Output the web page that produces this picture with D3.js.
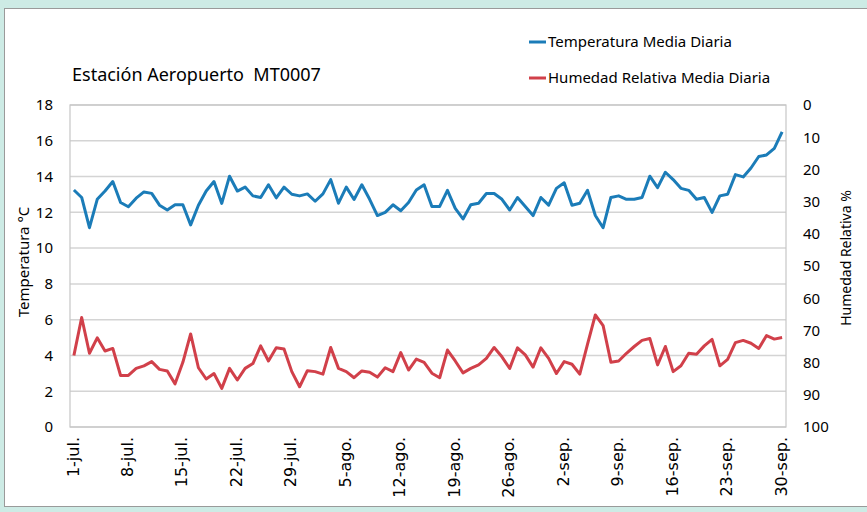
<!DOCTYPE html>
<html>
<head>
<meta charset="utf-8">
<script src="https://cdn.jsdelivr.net/npm/d3@7"></script>
<style>
  body { margin: 0; background: #cdebe5; }
  text { font-family: "Noto Sans", sans-serif; fill: #000; }
</style>
</head>
<body>
<div id="chart"></div>
<script>
// daily means, 1-jul .. 30-sep
var temperatura = [13.25, 12.83, 11.14, 12.73, 13.19, 13.72, 12.55, 12.31, 12.79, 13.14,
    13.06, 12.40, 12.13, 12.42, 12.42, 11.30, 12.40, 13.19, 13.72, 12.50,
    14.02, 13.19, 13.41, 12.92, 12.83, 13.54, 12.81, 13.41, 13.01, 12.92,
    13.03, 12.62, 13.03, 13.83, 12.51, 13.41, 12.72, 13.54, 12.73, 11.82,
    12.00, 12.42, 12.09, 12.55, 13.25, 13.54, 12.33, 12.33, 13.23, 12.22,
    11.63, 12.42, 12.51, 13.05, 13.05, 12.73, 12.13, 12.83, 12.33, 11.82,
    12.83, 12.40, 13.34, 13.65, 12.40, 12.51, 13.23, 11.82, 11.14, 12.83,
    12.92, 12.73, 12.73, 12.83, 14.02, 13.38, 14.24, 13.83, 13.34, 13.23,
    12.73, 12.83, 12.00, 12.92, 13.01, 14.11, 13.98, 14.48, 15.12, 15.21,
    15.58, 16.50];

var humedad = [77.8, 66.0, 77.1, 72.3, 76.4, 75.6, 84.0, 84.0, 81.8, 81.0,
    79.7, 82.1, 82.6, 86.6, 79.9, 71.1, 81.6, 85.1, 83.4, 88.0,
    81.8, 85.4, 81.8, 80.3, 74.8, 79.5, 75.4, 75.8, 82.8, 87.5,
    82.5, 82.8, 83.6, 75.3, 81.8, 82.8, 84.7, 82.6, 83.0, 84.5,
    81.6, 82.8, 76.9, 82.3, 78.9, 79.9, 83.3, 84.7, 76.1, 79.5,
    83.2, 81.8, 80.7, 78.7, 75.3, 78.2, 81.8, 75.4, 77.6, 81.4,
    75.4, 78.7, 83.4, 79.7, 80.5, 83.6, 74.3, 65.2, 68.5, 79.9,
    79.5, 77.1, 75.0, 73.1, 72.5, 80.7, 75.0, 82.8, 81.0, 77.1,
    77.4, 74.8, 72.8, 81.0, 79.0, 73.8, 73.1, 74.0, 75.6, 71.6,
    72.7, 72.2];

var tickLabels = ["1-jul.", "8-jul.", "15-jul.", "22-jul.", "29-jul.", "5-ago.", "12-ago.",
    "19-ago.", "26-ago.", "2-sep.", "9-sep.", "16-sep.", "23-sep.", "30-sep."];

var series = ["Temperatura Media Diaria", "Humedad Relativa Media Diaria"];
var colors = ["#1b7cb8", "#d1404a"];

var margin = {top: 105, right: 81, bottom: 85, left: 70},
    width = 867 - margin.left - margin.right,
    height = 512 - margin.top - margin.bottom;

var svg = d3.select("#chart")
    .append("svg")
    .attr("width", 867)
    .attr("height", 512);

// white chart panel
svg.append("rect")
    .attr("x", 4.5)
    .attr("y", 8.5)
    .attr("width", 870)
    .attr("height", 498)
    .style("fill", "#fff")
    .style("stroke", "#9a9a9a");

var g = svg.append("g")
    .attr("transform", "translate(" + margin.left + "," + margin.top + ")");

var x = d3.scalePoint()
    .domain(d3.range(temperatura.length))
    .range([0, width])
    .padding(0.5);

var yT = d3.scaleLinear().domain([0, 18]).range([height, 0]);
var yH = d3.scaleLinear().domain([0, 100]).range([0, height]);

// gridlines
g.selectAll(".grid")
    .data(yT.ticks(9))
    .enter().append("line")
    .attr("x1", 0)
    .attr("x2", width)
    .attr("y1", function(d) { return yT(d); })
    .attr("y2", function(d) { return yT(d); })
    .style("stroke", "#d4d4d4")
    .style("stroke-width", 1.5);

g.append("rect")
    .attr("width", width)
    .attr("height", height)
    .style("fill", "none")
    .style("stroke", "#c6c6c6")
    .style("stroke-width", 1.2);

// left axis
var leftAxis = g.append("g")
    .call(d3.axisLeft(yT).tickValues(d3.range(0, 19, 2)).tickSize(0).tickPadding(17));
leftAxis.select(".domain").remove();
leftAxis.selectAll("text").style("font-size", "15px").style("font-family", "Noto Sans");

// right axis (humidity, inverted)
var rightAxis = g.append("g")
    .attr("transform", "translate(" + width + ",0)")
    .call(d3.axisRight(yH).tickValues(d3.range(0, 101, 10)).tickSize(0).tickPadding(17));
rightAxis.select(".domain").remove();
rightAxis.selectAll("text").style("font-size", "15px").style("font-family", "Noto Sans");

// bottom labels, every 7 days
var labelIdx = d3.range(0, temperatura.length, 7);
g.selectAll(".xlabel")
    .data(labelIdx)
    .enter().append("text")
    .attr("class", "xlabel")
    .attr("transform", function(d) { return "translate(" + (x(d) - 1) + "," + (height + 10) + ") rotate(-90)"; })
    .attr("dy", "0.35em")
    .attr("text-anchor", "end")
    .style("font-family", "DejaVu Sans")
    .style("font-size", "16px")
    .text(function(d, i) { return tickLabels[i]; });

// lines
var lineT = d3.line()
    .x(function(d, i) { return x(i); })
    .y(function(d) { return yT(d); });
var lineH = d3.line()
    .x(function(d, i) { return x(i); })
    .y(function(d) { return yH(d); });

g.append("path")
    .datum(humedad)
    .attr("d", lineH)
    .style("fill", "none")
    .style("stroke", colors[1])
    .style("stroke-width", 3)
    .style("stroke-linejoin", "round");

g.append("path")
    .datum(temperatura)
    .attr("d", lineT)
    .style("fill", "none")
    .style("stroke", colors[0])
    .style("stroke-width", 3)
    .style("stroke-linejoin", "round");

// axis titles
svg.append("text")
    .attr("transform", "translate(29,262) rotate(-90)")
    .attr("text-anchor", "middle")
    .style("font-size", "15px")
    .text("Temperatura °C");

svg.append("text")
    .attr("transform", "translate(851,258) rotate(-90)")
    .attr("text-anchor", "middle")
    .style("font-size", "14px")
    .text("Humedad Relativa %");

// title
svg.append("text")
    .attr("x", 72)
    .attr("y", 81)
    .style("font-size", "18px")
    .style("white-space", "pre")
    .attr("xml:space", "preserve")
    .text("Estación Aeropuerto  MT0007");

// legend
var legend = svg.selectAll(".legend")
    .data(series)
    .enter().append("g")
    .attr("class", "legend")
    .attr("transform", function(d, i) { return "translate(529," + (42 + i * 36) + ")"; });

legend.append("line")
    .attr("x1", 0)
    .attr("x2", 17)
    .style("stroke", function(d, i) { return colors[i]; })
    .style("stroke-width", 3);

legend.append("text")
    .attr("x", 19)
    .attr("dy", "0.35em")
    .style("font-size", "15px")
    .text(function(d) { return d; });
</script>
</body>
</html>
